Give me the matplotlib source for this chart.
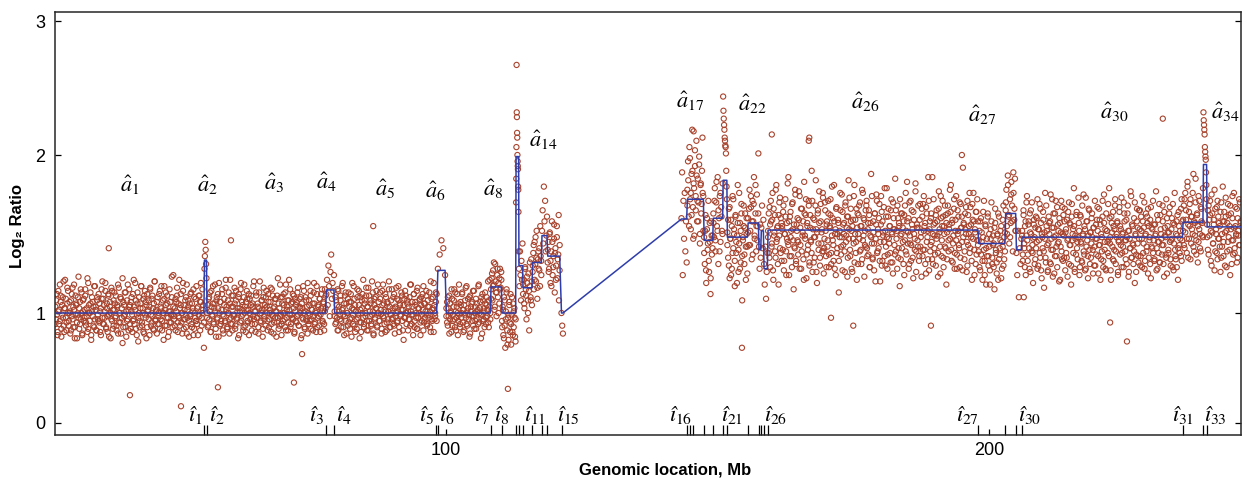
import numpy as np
import matplotlib
matplotlib.use('Agg')
import matplotlib.pyplot as plt

plt.rcParams['mathtext.fontset'] = 'stix'
plt.rcParams['font.family'] = ['Liberation Sans', 'DejaVu Sans']

# probe chunks: genomic span (Mb) and log2 ratio values (x100)
chunk_lo = [28.0, 55.49, 55.93, 77.90, 79.43, 98.34, 100.0, 108.23, 110.26, 112.89,
            113.39, 114.13, 115.89, 117.62, 118.66, 121.2, 143.3, 144.38, 147.46, 149.17,
            151.01, 151.75, 155.56, 157.59, 158.01, 158.51, 159.24, 198.03, 203.00, 204.97,
            206.02, 235.67, 239.46, 240.09]
chunk_hi = [55.49, 55.93, 77.90, 79.43, 98.34, 100.0, 108.23, 110.26, 112.89, 113.39,
            114.13, 115.89, 117.62, 118.66, 121.0, 121.6, 144.38, 147.46, 149.17, 151.01,
            151.75, 155.56, 157.59, 158.01, 158.51, 159.24, 198.03, 203.00, 204.97, 206.02,
            235.67, 239.46, 240.09, 246.4]
chunk_vals = [
    """104 96 112 88 101 93 118 107 85 99 110 92 103 121 97 89 106 114 95 100
    87 108 98 116 91 102 84 111 105 94 99 123 90 107 96 113 86 101 109 97
    115 92 103 88 119 100 95 106 83 110 98 104 91 117 102 89 108 96 112 94
    101 86 109 120 93 105 97 114 90 103 88 111 99 107 84 116 95 102 92 113
    106 98 89 104 118 94 100 110 87 97 122 91 105 99 113 85 108 96 102 115
    93 107 101 88 112 96 104 119 90 99 106 82 110 95 103 117 92 100 109 87
    114 97 105 91 102 108 86 116 99 94 111 103 89 120 96 101 107 93 98 112
    90 104 117 95 100 83 109 102 113 92 106 97 88 115 101 94 110 99 124 96
    103 89 107 111 94 98 121 92 105 100 87 114 96 102 108 91 118 97 104 85
    99 112 93 106 101 115 90 97 109 95 103 86 111 98 107 119 92 100 105 78""",
    "128 136 145 140 131 122",
    """97 105 92 110 101 88 114 99 106 94 103 118 90 108 96 112 85 100 107 93
    102 115 89 98 109 95 121 104 91 100 113 87 106 97 111 93 104 99 116 90
    108 96 101 84 112 103 94 119 98 105 89 110 100 92 107 114 95 102 86 109
    99 111 93 104 117 96 101 88 113 97 106 91 103 120 94 100 108 85 110 98
    105 92 114 100 89 107 96 102 116 93 99 111 87 104 97 109 101 94 122 90
    103 98 110 86 106 95 112 100 91 118 97 104 89 108 102 115 93 99 107 96
    111 88 101 105 94 113 99 92 109 103 84 106 97 117 100 91 110 96 104 87
    100 108 95 114 90 102 106 98 119 93 101 88 112 97 105 92 109 99 103 115
    94 106 89 101 111""",
    "112 121 105 130 117 98 126 137 109 119 114 124",
    """101 93 108 97 115 89 104 99 111 95 102 119 91 106 98 113 87 100 109 94
    107 96 112 85 103 99 117 92 105 101 90 110 97 114 94 102 88 108 100 121
    93 106 98 111 89 104 116 95 101 108 92 99 113 86 105 97 110 103 91 118
    100 95 109 102 87 114 98 106 93 112 101 89 107 96 120 104 91 99 115 97
    110 92 103 98 116 94 101 108 88 105 99 113 95 102 83 109 97 111 100 106
    89 104 96 118 101 93 107 99 112 91 105 97 114 90 103 100 108 86 110 95
    102 117 94 106 99 111 92 104 97 113 101 88 109 95 103 119 96 100 107 112""",
    "128 137 146 141 124",
    """98 107 92 103 111 96 100 88 109 95 104 115 91 101 97 112 86 106 99 93
    105 100 113 94 102 89 108 97 117 92 103 99 110 87 101 106 95 114 98 90
    104 109 96 101 93 118 100 107 84 99 112 95 103 91 106 97 110 102 94 108
    121 96""",
    "115 122 108 127 118 102 131 113 98 124 110 119 106 128 116 121",
    "95 104 86 110 92 78 101 115 89 97 83 107 94 112 80 99 88 106 91 103 85 96",
    "170 185 205 257 227 224 214 211 200 196 193 191 180 178 164 139",
    "128 117 139 124 108 133 121 144",
    "112 121 103 128 115 96 119 108 125 89 117 110 134 105",
    "126 138 115 145 131 120 152 109 134 128 141 117 136 124",
    "152 165 144 180 158 171 139 149 161",
    "132 145 128 151 119 139 158 124 136 147 113 141 130 155 122 137 108 143",
    "100 92 87",
    "160 189 124 171 147 176 139 158 132",
    "178 196 161 205 172 153 188 216 167 182 149 193 174 209 158 185 170 199 144 181 163 190 176 152",
    "148 131 162 119 153 140 171 126 145 112 158 137 149",
    "163 148 179 139 170 155 186 131 160 174 145 167 152 182",
    "237 228 223 219 216 211 209 206 205 201 190 180 172",
    """151 135 166 122 147 159 128 174 141 153 117 162 138 149 181 126 144 157 132 169
    108 146 155 137 163 121 150 142""",
    "160 143 178 152 167 134 171 158 186 147 163 139 175 155 201",
    "142 128 156 135",
    "154 168 141 159",
    "131 118 142 109 126 138",
    """152 138 167 129 158 144 176 121 149 162 135 181 147 155 118 170 141 160 133 153
    164 127 150 172 139 157 145 186 124 161 148 136 169 153 115 142 178 131 156 146
    137 159 174 143 128 166 151 134 183 149 162 122 157 140 171 132 154 145 190 126
    160 148 135 168 153 119 163 144 177 130 158 151 139 173 125 147 165 136 156 142
    171 129 154 162 138 180 146 133 158 150 124 167 141 159 113 152 176 137 148 164
    143 157 126 170 149 161 135 184 153 140 166 128 155 147 174 132 159 145 121 163
    150 168 139 155 131 178 146 160 123 152 142 171 136 157 165 129 149 188 144 134
    158 127 163 147 175 138 153 141 169 120 156 164 133 151 145 179 130 161 148 137
    166 144 155 132 172 150 125 160 143 185 139 152 168 135 157 117 149 163 141 154
    131 162 146 176 137 158 151 128 170 144 133 165 153 122 159 147 182 139 156 142
    154 136 169 148 123 161 140 174 155 131 167 145 152 186 127 158 143 163 134 150
    172 141 157 130 165 149 138 177 153 125 160 146 171 135 155 142 162 118 151 168
    139 156 147 181 133 159 144 166 128 152 174 137 150 161 141 129 169 154 145 192
    157 134 163 150 126 171 143 155 138 167 148 121 159 176 140 153 131 164 146 158""",
    """146 129 158 137 151 121 164 140 133 155 118 147 161 136 142 127 153 170 131 149
    144 115 157 138 125 150 163 134 141 152 122 145 159 130 148 139""",
    "165 178 150 187 161 144 172 157 183 168 139 176 159 185 152",
    "138 124 152 110 141 131 147",
    """149 133 162 141 155 124 170 146 137 158 128 151 165 139 143 119 156 148 134 161
    145 172 130 153 138 166 127 150 141 159 116 147 135 168 152 126 144 157 132 175
    140 154 123 163 148 136 171 142 129 156 145 160 121 151 139 167 133 149 158 127
    153 135 146 164 131 157 143 118 169 150 138 155 126 147 162 141 134 173 152 129
    161 144 132 149 175 137 153 128 158 146 122 166 140 151 135 160 148 125 154 142
    130 156 147 167 136 143 159 121 150 139 171 133 157 145 128 163 152 138 146 179
    144 127 161 151 134 155 140 168 131 148 157 124 145 164 137 153 129 150 142 170
    158 139 146 131 163 152 126 147 141 174 135 155 143 160 119 149 137 166 154 132
    147 165 136 152 129 158 144 170 133 150 139 161 125 155 146 131 167 142 153 138
    156 134 149 177 141 128 159 145 132 162 150 137 168 143 123 154 148 135 160 151
    138 163 145 130 153 147 169 127 156 140 134 158 149 121 164 143 152 136 172 146""",
    """159 143 172 151 165 138 180 156 147 169 134 161 153 176 142 158 149 185 137 163
    155 145 171 150 139 166 157 148""",
    "227 222 219 216 213 205 202 199 197 189 181 172",
    """156 140 168 149 162 133 175 151 144 159 127 166 153 138 171 147 157 142 164 135
    150 180 145 158 130 161 152 139 169 148 155 124 163 146 174 137 154 141 167 150
    132 160 149 172 143 158""",
]

# second pass of probes in the densest stretches
extra_lo = [28.0, 55.93, 79.43, 100.0, 108.23, 110.26, 114.13, 115.89, 118.66,
            144.38, 147.46, 149.17, 151.75, 155.56, 159.24, 198.03, 203.00, 206.02,
            235.67, 240.09]
extra_hi = [55.49, 77.90, 98.34, 108.23, 110.26, 112.89, 115.89, 117.62, 121.0,
            147.46, 149.17, 151.01, 155.56, 157.59, 198.03, 203.00, 204.97, 235.67,
            239.46, 246.4]
extra_vals = [
    """93 108 99 86 114 102 95 111 90 105 97 120 88 103 109 94 116 100 92 107
    101 89 112 96 104 118 91 99 106 84 110 97 103 93 115 100 87 108 95 102
    111 94 98 122 90 105 100 113 86 101 107 92 117 96 104 89 110 99 95 106
    88 103 115 97 109 93 101 119 91 106 98 112 85 104 100 96 114 90 108 102
    97 111 92 105 87 116 100 94 109 103 81 107 98 113 91 101 95 118 89 104
    105 90 110 99 95 121 93 102 108 86 113 97 100 91 106 117 94 103 88 111
    99 107 84 112 101 96 104 115 92 109 98 90 106 120 95 102 87 110 100 93
    114 96 103 89 108 100 117 92 105 97 111 85 101 94 107 99 123 91 104 98
    92 109 101 116 88 106 97 103 112 94 100 119 90 105 96 110 87 102 108 95
    106 98 113 91 103 86 110 100 95 117 93 104 99 111 89 107 97 115 102 94""",
    """100 91 109 96 113 88 104 98 117 93 106 101 85 110 97 103 119 92 107 95
    112 99 87 105 94 116 102 90 108 100 96 121 93 104 89 111 98 106 92 114
    97 103 110 86 101 115 95 107 99 91 118 104 88 102 109 94 112 100 96 105
    89 106 98 120 93 101 111 97 104 87 113 99 95 108 102 90 116 96 103 110
    104 95 112 91 100 107 88 115 98 103 94 109 101 85 111 97 106 92 118 99
    93 110 100 105 96 113 89 102 108 94 121 99 91 106 97 112 103 87 109 95
    107 98 116 92 104 100 110 86 103 96 114 90 101 108 95 119 93 105 99 111
    96 102 89 113 106 94 100 117 91 104 98 109 88 112 101 95 107 93 115 103""",
    """98 110 94 105 89 114 101 96 108 91 117 103 99 86 111 95 106 100 92 113
    104 90 107 97 119 93 102 109 88 101 96 115 99 105 84 110 94 103 112 97
    91 108 100 116 95 104 89 111 98 106 93 120 101 87 109 96 103 114 92 100
    107 95 113 99 90 105 118 97 102 88 110 94 106 101 115 91 99 108 96 103
    93 112 87 104 100 109 95 117 91 106 98 102 111 89 105 97 114 100 93 108
    101 96 110 92 118 99 104 86 112 95 107 100 90 116 97 103 109 94 105 99
    112 89 106 97 101 114 93 108 99 104 91 120 96 102 110 88 105 98 113 95""",
    """103 94 110 98 87 106 101 115 92 99 108 96 113 89 104 100 95 118 91 107
    97 112 102 88 105 99 116 93 101 109 96 85 111 104 98 107 92 114 100 95
    90 106 102 117 94 103 99 110 87 108 96 101 113 93 105 98 120 91 104 100""",
    "109 125 117 132 104 120 113 128 100 122 115 126",
    "91 102 84 108 96 113 80 99 105 88 93 110 86 101 97 82",
    "118 106 129 111 123 100 114 132 108 120",
    "130 143 121 148 135 116 139 127 155 133",
    "140 126 150 133 117 145 129 156 138 121 148 134 162 127",
    "168 184 155 198 176 162 190 147 179 203 165 187 171 158 194 150 182 169 211 174",
    "138 152 127 160 144 133 157 122 149 141",
    "157 171 146 183 152 165 139 176 161 150",
    """143 159 130 167 147 124 155 138 172 150 133 161 145 119 157 140 176 128 152 163
    136 148 168 131 154 142 160 125""",
    "151 166 143 174 158 137 169 149 181 155 146 163",
    """148 163 135 156 171 142 159 127 166 151 139 178 145 154 131 162 149 173 138 157
    155 140 168 133 150 161 124 147 182 143 158 136 164 152 129 170 146 156 141 175
    133 152 160 145 177 128 154 166 139 149 158 121 163 147 172 137 155 143 168 130
    162 146 138 171 153 132 159 148 184 126 151 165 140 157 135 169 144 153 176 139
    141 170 152 129 158 146 163 137 155 172 131 149 160 143 181 128 153 166 138 150
    157 133 148 165 142 175 127 156 150 139 168 145 154 123 161 147 173 136 158 152
    126 159 144 181 150 138 166 154 131 162 147 170 140 155 134 176 149 159 143 165
    168 141 153 137 162 129 157 148 174 135 151 144 163 120 156 171 139 150 160 133
    145 174 130 158 149 167 136 152 142 179 128 161 147 155 138 165 151 132 170 153
    153 137 165 147 128 160 141 155 172 134 150 163 145 158 124 168 139 152 183 144
    160 131 149 171 143 156 135 164 150 140 177 126 154 146 168 133 159 142 151 166
    136 169 152 140 157 125 163 148 134 171 153 139 160 145 186 131 156 149 137 162
    147 158 123 166 151 142 174 136 155 161 129 150 168 141 157 134 163 146 153 178
    164 140 157 132 149 172 138 159 146 128 165 152 143 170 135 154 161 127 148 156
    139 153 167 145 130 162 150 176 141 156 133 169 147 158 124 151 164 137 172 143""",
    """139 152 127 160 145 133 148 171 124 156 141 136 163 130 150 118 147 158 135 143
    129 154 166 140 132 149 121 161 137 146 155 128 142 168 134 151""",
    "170 155 181 162 148 175 158 189 166 152",
    """152 137 165 144 129 158 149 174 133 156 141 163 126 150 170 138 147 159 131 154
    141 160 128 153 146 169 135 157 122 148 164 139 151 176 132 155 143 127 161 150
    158 131 147 172 140 154 125 163 149 136 167 144 152 120 157 142 171 134 150 162
    135 166 151 138 159 123 147 170 143 156 130 161 146 153 179 128 149 137 164 145
    148 157 124 162 145 133 168 150 139 155 127 173 142 158 136 149 165 131 151 144
    163 140 154 130 171 147 137 159 152 125 166 143 156 134 148 161 129 175 140 153
    127 152 145 169 136 160 148 121 157 142 164 133 153 172 139 150 158 126 146 167
    155 143 173 138 151 129 163 146 134 159 148 168 123 152 141 177 135 156 144 131
    139 170 150 126 158 144 136 165 153 130 161 147 174 138 154 128 149 163 142 157
    166 135 148 159 122 154 141 171 146 133 156 150 127 162 145 138 169 132 153 147
    143 158 131 164 149 137 172 125 155 140 151 167 134 146 160 129 157 144 176 136
    150 129 162 141 155 138 147 166 133 158""",
    """152 168 141 176 159 147 183 135 164 155 172 144 161 150 188 139 157 170 146 162
    132 174 153 141 167 158 149 179""",
    """148 165 137 159 171 152 130 163 144 156 178 139 150 167 134 161 147 155 126 170
    142 158 136 164 151 173 129 157 145 162 140 168 153 131 160 146 176 138 155 149
    166 135 152 143 170 157""",
]

# isolated outlying probes
out_x = [37.9, 41.8, 51.2, 58.0, 60.4, 72.0, 73.5, 86.6, 111.4, 145.6, 154.5, 160.0,
         166.8, 166.9, 170.9, 175.0, 189.3, 195.0, 206.4, 222.3, 225.4, 232.0]
out_y = [1.41, 0.48, 0.41, 0.53, 1.46, 0.56, 0.74, 1.55, 0.52, 2.15, 0.78, 2.13,
         2.09, 2.11, 0.97, 0.92, 0.92, 2.00, 1.10, 0.94, 0.82, 2.23]

# segmentation fit
fit_edges = [28.0, 55.49, 55.93, 77.90, 79.43, 98.34, 100.0, 108.23, 110.26, 112.89,
             113.39, 114.13, 115.89, 117.62, 118.66, 121.2, 121.6, 144.38, 147.46, 149.17,
             151.01, 151.75, 155.56, 157.59, 158.01, 158.51, 159.24, 198.03, 203.00, 204.97,
             206.02, 235.67, 239.46, 240.09, 246.4]
fit_levels = [1.0, 1.335, 1.0, 1.146, 1.0, 1.27, 1.0, 1.165, 1.0, 1.99,
              1.30, 1.16, 1.32, 1.49, 1.36, 1.0, 1.595, 1.72, 1.46, 1.60,
              1.84, 1.48, 1.57, 1.40, 1.52, 1.28, 1.525, 1.44, 1.63, 1.40,
              1.48, 1.575, 1.94, 1.545]

# estimated breakpoints (ticks on the x axis)
breakpoints = [55.49, 55.93, 77.90, 79.43, 98.16, 98.53, 100.0, 108.23, 110.26, 112.89,
               113.39, 114.13, 115.89, 117.62, 118.66, 121.45, 144.38, 144.88, 145.43, 147.46,
               149.17, 151.01, 151.75, 155.56, 157.59, 158.01, 158.51, 159.24, 198.03, 203.00,
               204.97, 206.02, 235.67, 239.46, 240.09]

a_idx = [1, 2, 3, 4, 5, 6, 8, 14, 17, 22, 26, 27, 30, 34]
a_x = [41.8, 56.0, 68.3, 77.9, 88.8, 98.0, 108.7, 118.0, 144.9, 156.4, 177.3, 198.7, 223.0, 243.6]
a_y = [1.81, 1.81, 1.82, 1.83, 1.78, 1.77, 1.78, 2.09, 2.34, 2.32, 2.33, 2.25, 2.27, 2.27]

i_idx = [1, 2, 3, 4, 5, 6, 7, 8, 11, 15, 16, 21, 26, 27, 30, 31, 33]
i_x = [53.78, 57.83, 76.24, 81.22, 96.50, 100.18, 106.63, 110.31, 116.39, 122.47,
       143.28, 152.67, 160.77, 195.95, 207.55, 235.73, 241.62]
i_y = 0.354

y_tick_pos = [0.304, 1.0, 2.0, 2.848]
y_tick_lab = ['0', '1', '2', '3']


def spread_chunks(los, his, vals):
    xs, ys = [], []
    for lo, hi, s in zip(los, his, vals):
        v = np.array(s.split(), dtype=float) / 100
        n = len(v)
        xs.append(lo + (np.arange(n) + 0.5) * (hi - lo) / n)
        ys.append(v)
    return xs, ys


def build_probes():
    xs, ys = spread_chunks(chunk_lo, chunk_hi, chunk_vals)
    xe, ye = spread_chunks(extra_lo, extra_hi, extra_vals)
    x = np.concatenate(xs + xe + [np.array(out_x)])
    y = np.concatenate(ys + ye + [np.array(out_y)])
    order = np.argsort(x)
    return x[order], y[order]


def fit_at(x):
    idx = np.searchsorted(fit_edges, x, side='right') - 1
    idx = np.clip(idx, 0, len(fit_levels) - 1)
    return np.array(fit_levels)[idx]


def main():
    x, y = build_probes()

    fig = plt.figure(figsize=(12.43, 4.86), dpi=100)
    ax = fig.add_axes([55 / 1243, 51 / 486, 1186 / 1243, 423 / 486])

    ax.scatter(x, y, s=14, facecolors='none', edgecolors='#A8432D', linewidths=0.8, zorder=2)
    ax.plot(x, fit_at(x), color='#2E3DAA', lw=1.1, zorder=3)

    ax.set_xlim(28.0, 246.4)
    ax.set_ylim(0.228, 2.905)

    ax.set_xticks([100, 200])
    ax.set_xticklabels(['100', '200'])
    ax.set_xticks(breakpoints, minor=True)
    ax.set_yticks(y_tick_pos)
    ax.set_yticklabels(y_tick_lab)
    ax.tick_params(axis='x', which='major', direction='in', length=4, width=0.9,
                   labelsize=13, pad=5)
    ax.tick_params(axis='x', which='minor', direction='in', length=7, width=0.9)
    ax.tick_params(axis='y', which='major', direction='in', length=4, width=0.9,
                   labelsize=13, pad=7, right=True)
    for sp in ax.spines.values():
        sp.set_color('#262626')
        sp.set_linewidth(1.1)

    for k, ax_x, ax_y in zip(a_idx, a_x, a_y):
        ax.text(ax_x, ax_y, r'$\hat{a}_{%d}$' % k, fontsize=16, ha='center', va='center')
    for k, ix in zip(i_idx, i_x):
        ax.text(ix, i_y, r'$\mathit{î}_{%d}$' % k, fontsize=16, ha='center', va='center')

    fig.text(665 / 1243, 1 - 470 / 486, 'Genomic location, Mb', fontsize=12, fontweight='bold',
             ha='center', va='center',
             family=['Liberation Sans Narrow', 'Liberation Sans', 'DejaVu Sans'])
    fig.text(18 / 1243, 1 - 226 / 486, 'Log₂ Ratio', fontsize=12, fontweight='bold',
             rotation=90, ha='center', va='center',
             family=['Liberation Sans Narrow', 'Liberation Sans', 'DejaVu Sans'])

    fig.savefig('out.png', dpi=100)


if __name__ == "__main__":
    main()
